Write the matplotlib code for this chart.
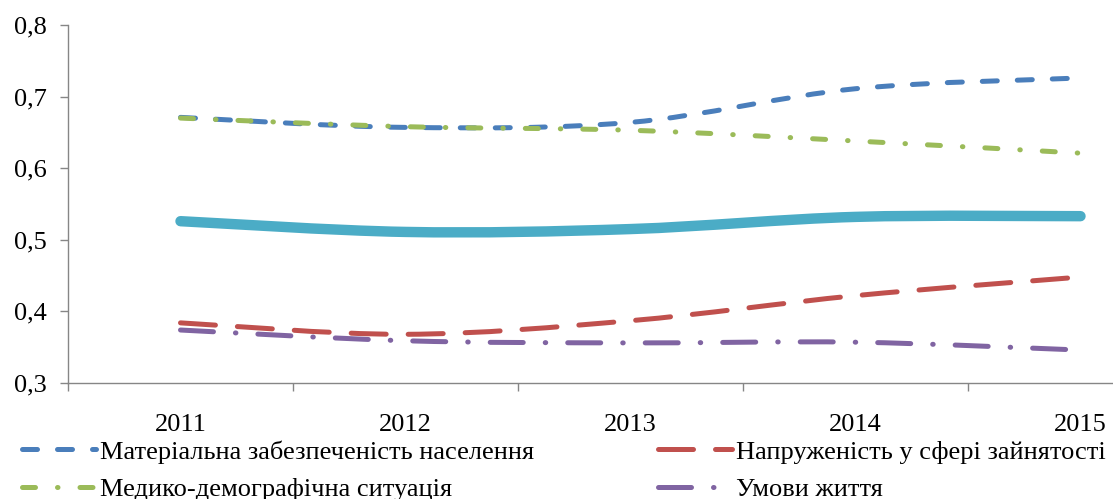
import numpy as np
import matplotlib
matplotlib.use("Agg")
import matplotlib.pyplot as plt
from matplotlib.path import Path
from matplotlib.patches import PathPatch
from matplotlib.lines import Line2D

years = ["2011", "2012", "2013", "2014", "2015"]
material = [0.671, 0.657, 0.664, 0.711, 0.726]
employment = [0.384, 0.368, 0.387, 0.422, 0.448]
medical = [0.670, 0.658, 0.653, 0.638, 0.621]
living = [0.374, 0.359, 0.356, 0.357, 0.346]
integral = [0.526, 0.511, 0.515, 0.532, 0.533]

labels = ["Матеріальна забезпеченість населення",
          "Напруженість у сфері зайнятості",
          "Медико-демографічна ситуація",
          "Умови життя"]

plt.rcParams['font.family'] = ['Liberation Serif', 'DejaVu Serif']

fig = plt.figure(figsize=(11.13, 4.99), dpi=100)
# plot area runs past the right edge, like the cropped original
ax = fig.add_axes([68 / 1113, 1 - 383 / 499, 1125 / 1113, 358 / 499])


def smooth_path(xs, ys):
    # Catmull-Rom style smoothing as cubic bezier segments (like Excel's smoothed line)
    pts = np.column_stack([xs, ys]).astype(float)
    ext = np.vstack([pts[0], pts, pts[-1]])
    verts = [pts[0]]
    codes = [Path.MOVETO]
    for i in range(len(pts) - 1):
        p0, p1, p2, p3 = ext[i], ext[i + 1], ext[i + 2], ext[i + 3]
        verts += [p1 + (p2 - p0) / 6, p2 - (p3 - p1) / 6, p2]
        codes += [Path.CURVE4] * 3
    return Path(verts, codes)


xs = np.arange(len(years))
series = [
    (material, "#4A7EBB", 3.6, (0, (3.0, 4.0))),
    (medical, "#9BBB59", 3.6, (0, (2.6, 4.4, 0.1, 4.4))),
    (employment, "#C0504D", 3.6, (0, (7.0, 4.4))),
    (living, "#8064A2", 3.6, (0, (6.6, 4.4, 0.1, 4.4))),
    (integral, "#4BACC6", 7.5, "solid"),
]
handles = []
for vals, col, lw, ls in series:
    patch = PathPatch(smooth_path(xs, vals), facecolor="none", edgecolor=col,
                      lw=lw, linestyle=ls, capstyle="round", joinstyle="round")
    ax.add_patch(patch)
    handles.append(Line2D([], [], color=col, lw=lw, linestyle=ls,
                          dash_capstyle="round", solid_capstyle="round"))

ax.set_xlim(-0.5, len(years) - 0.5)
ax.set_ylim(0.3, 0.8)
ax.set_yticks([0.3, 0.4, 0.5, 0.6, 0.7, 0.8])
ax.set_yticklabels(["0,3", "0,4", "0,5", "0,6", "0,7", "0,8"])
ax.set_xticks(xs)
ax.set_xticklabels(years)
ax.set_xticks(np.arange(len(years) + 1) - 0.5, minor=True)
ax.tick_params(axis="x", which="major", length=0, pad=22, labelsize=19)
ax.tick_params(axis="x", which="minor", length=6, color="#868686", width=1)
ax.tick_params(axis="y", length=6, color="#868686", width=1, labelsize=19, pad=9)
for side in ["top", "right"]:
    ax.spines[side].set_visible(False)
for side in ["left", "bottom"]:
    ax.spines[side].set_color("#868686")
    ax.spines[side].set_linewidth(1)

leg_handles = [handles[0], handles[1], handles[2], handles[3]]
leg_labels = [labels[0], labels[2], labels[1], labels[3]]
fig.legend(leg_handles, leg_labels, ncol=2, loc="upper left",
           bbox_to_anchor=(22 / 1113, 1 - 440 / 499), frameon=False,
           fontsize=19, handlelength=2.8, handletextpad=0.15,
           columnspacing=4.7, labelspacing=0.53, borderpad=0, borderaxespad=0)

fig.savefig("out.png", dpi=100)
